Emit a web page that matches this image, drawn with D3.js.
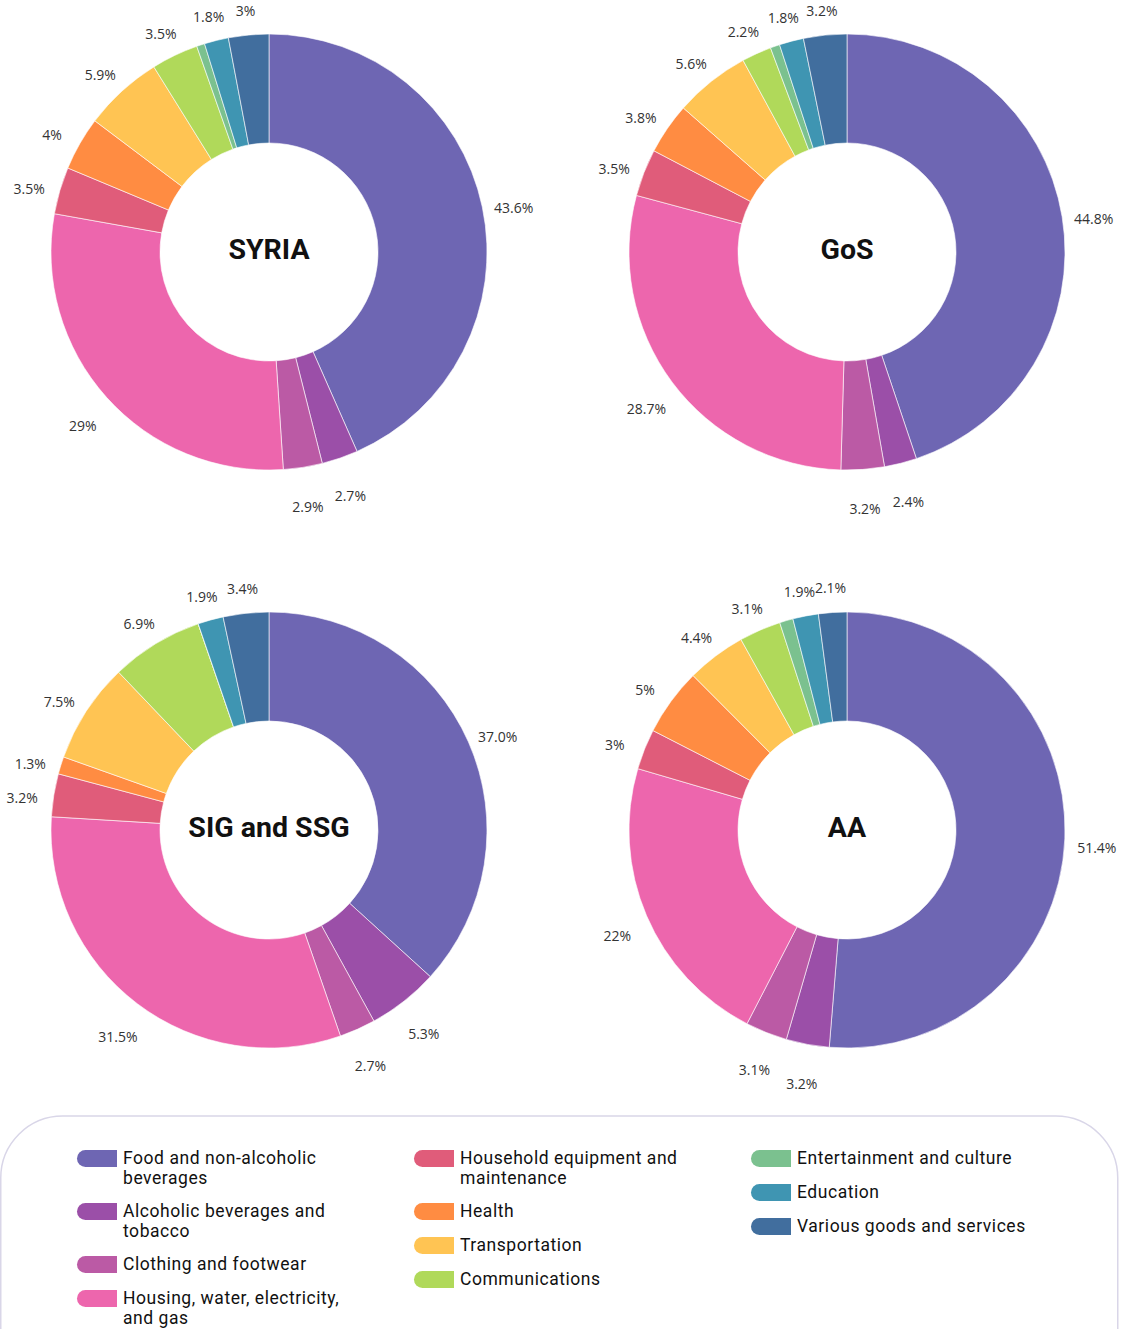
<!DOCTYPE html>
<html>
<head>
<meta charset="utf-8">
<script src="https://cdn.jsdelivr.net/npm/d3@7"></script>
<style>
  body { margin: 0; background: #fff; }
  svg { display: block; }
</style>
</head>
<body>
<div id="chart"></div>
<script>
// categories in drawing order (clockwise from 12 o'clock)
var categories = [
  "Food and non-alcoholic beverages",
  "Alcoholic beverages and tobacco",
  "Clothing and footwear",
  "Housing, water, electricity, and gas",
  "Household equipment and maintenance",
  "Health",
  "Transportation",
  "Communications",
  "Entertainment and culture",
  "Education",
  "Various goods and services"
];

var colors = ["#6e66b3", "#9b4fa8", "#bb5aa5", "#ed66ad", "#e05c7a", "#ff8c42",
              "#ffc453", "#b0d95a", "#7bc18f", "#3f95b2", "#416e9e"];

// shares per region (%), entertainment is not labelled in the picture
var syria  = [43.6, 2.7, 2.9, 29.0, 3.5, 4.0, 5.9, 3.5, 0.6, 1.8, 3.0];
var gos    = [44.8, 2.4, 3.2, 28.7, 3.5, 3.8, 5.6, 2.2, 0.7, 1.8, 3.2];
var sig    = [37.0, 5.3, 2.7, 31.5, 3.2, 1.3, 7.5, 6.9, 0.0, 1.9, 3.4];
var aa     = [51.4, 3.2, 3.1, 22.0, 3.0, 5.0, 4.4, 3.1, 1.0, 1.9, 2.1];

var syriaLabels = ["43.6%", "2.7%", "2.9%", "29%", "3.5%", "4%", "5.9%", "3.5%", "", "1.8%", "3%"];
var gosLabels   = ["44.8%", "2.4%", "3.2%", "28.7%", "3.5%", "3.8%", "5.6%", "2.2%", "", "1.8%", "3.2%"];
var sigLabels   = ["37.0%", "5.3%", "2.7%", "31.5%", "3.2%", "1.3%", "7.5%", "6.9%", "", "1.9%", "3.4%"];
var aaLabels    = ["51.4%", "3.2%", "3.1%", "22%", "3%", "5%", "4.4%", "3.1%", "", "1.9%", "2.1%"];

var charts = [
  { title: "SYRIA",       values: syria, labels: syriaLabels, cx: 269, cy: 252 },
  { title: "GoS",         values: gos,   labels: gosLabels,   cx: 847, cy: 252 },
  { title: "SIG and SSG", values: sig,   labels: sigLabels,   cx: 269, cy: 830 },
  { title: "AA",          values: aa,    labels: aaLabels,    cx: 847, cy: 830 }
];

var width = 1121, height = 1329;
var outerR = 218, innerR = 109, labelR = 250;

var svg = d3.select("#chart").append("svg")
    .attr("width", width)
    .attr("height", height);

var color = d3.scaleOrdinal().domain(categories).range(colors);

var pie = d3.pie()
    .sort(null)
    .value(function (d) { return d.value; });

var arc = d3.arc().innerRadius(innerR).outerRadius(outerR);
var labelArc = d3.arc().innerRadius(labelR).outerRadius(labelR);

charts.forEach(function (c) {
  var data = categories.map(function (k, i) {
    return { key: k, value: c.values[i], label: c.labels[i] };
  });
  var g = svg.append("g")
      .attr("transform", "translate(" + c.cx + "," + c.cy + ")");
  var arcs = pie(data);

  g.selectAll("path.slice")
    .data(arcs)
    .enter().append("path")
    .attr("class", "slice")
    .attr("d", arc)
    .attr("fill", function (d) { return color(d.data.key); })
    .attr("stroke", "#fff")
    .attr("stroke-width", 0.6);

  g.selectAll("text.lbl")
    .data(arcs.filter(function (d) { return d.data.label; }))
    .enter().append("text")
    .attr("class", "lbl")
    .attr("x", function (d) { return labelArc.centroid(d)[0]; })
    .attr("y", function (d) { return labelArc.centroid(d)[1] + 9; })
    .attr("text-anchor", "middle")
    .attr("dominant-baseline", "middle")
    .style("font-family", "'Open Sans', sans-serif")
    .style("font-size", "14px")
    .style("fill", "#333")
    .text(function (d) { return d.data.label; });

  g.append("text")
    .attr("x", 0)
    .attr("y", -3)
    .attr("text-anchor", "middle")
    .attr("dominant-baseline", "central")
    .style("font-family", "Roboto, sans-serif")
    .style("font-weight", "bold")
    .style("font-size", "28.5px")
    .style("fill", "#111")
    .text(c.title);
});

// legend
var legend = svg.append("g");
legend.append("rect")
    .attr("x", 0.75)
    .attr("y", 1116)
    .attr("width", 1117)
    .attr("height", 320)
    .attr("rx", 62)
    .attr("fill", "none")
    .attr("stroke", "#d9d6e8")
    .attr("stroke-width", 1.5);

var legendCols = [
  [[0, ["Food and non-alcoholic", "beverages"]],
   [1, ["Alcoholic beverages and", "tobacco"]],
   [2, ["Clothing and footwear"]],
   [3, ["Housing, water, electricity,", "and gas"]]],
  [[4, ["Household equipment and", "maintenance"]],
   [5, ["Health"]],
   [6, ["Transportation"]],
   [7, ["Communications"]]],
  [[8, ["Entertainment and culture"]],
   [9, ["Education"]],
   [10, ["Various goods and services"]]]
];
var colX = [77, 414, 751];
var swW = 40, swH = 17, sr = 8.5;

legendCols.forEach(function (col, ci) {
  var y = 1150;
  col.forEach(function (item) {
    var x = colX[ci];
    var p = d3.path();
    p.moveTo(x + sr, y);
    p.lineTo(x + swW, y);
    p.lineTo(x + swW, y + swH);
    p.lineTo(x + sr, y + swH);
    p.arc(x + sr, y + sr, sr, Math.PI / 2, Math.PI * 1.5);
    p.closePath();
    legend.append("path")
      .attr("d", p.toString())
      .attr("fill", color(categories[item[0]]));
    var t = legend.append("text")
      .attr("x", x + 46)
      .attr("y", y + 14)
      .style("font-family", "Roboto, sans-serif")
      .style("font-size", "17.5px")
      .style("letter-spacing", "0.55px")
      .style("fill", "#111");
    item[1].forEach(function (line, li) {
      t.append("tspan")
        .attr("x", x + 46)
        .attr("dy", li === 0 ? 0 : 19.5)
        .text(line);
    });
    y += 34 + (item[1].length - 1) * 19;
  });
});
</script>
</body>
</html>
